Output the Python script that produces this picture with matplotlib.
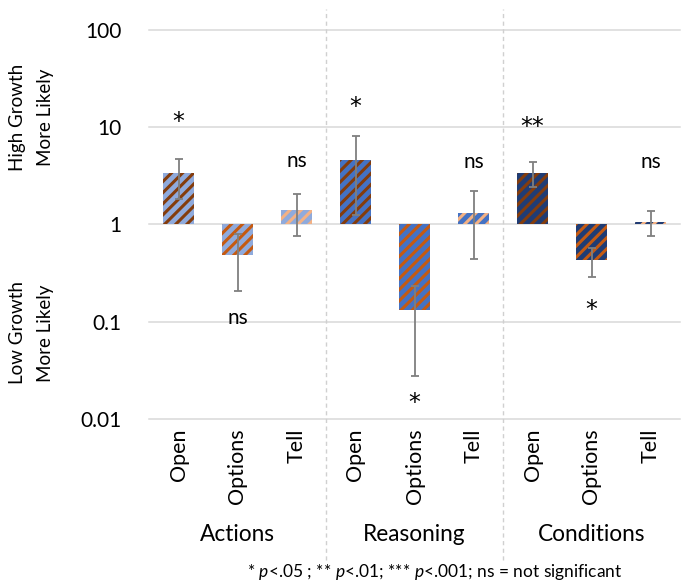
import matplotlib
matplotlib.use("Agg")
import matplotlib.pyplot as plt
import matplotlib.transforms as mtransforms
import numpy as np

plt.rcParams['font.family'] = ['Lato', 'DejaVu Sans']
plt.rcParams['mathtext.fontset'] = 'custom'
plt.rcParams['mathtext.rm'] = 'Lato'
plt.rcParams['mathtext.it'] = 'Lato:italic'
plt.rcParams['hatch.linewidth'] = 2.2

# ---- data ----
groups = ["Actions", "Reasoning", "Conditions"]
items = ["Open", "Options", "Tell"]
values = [3.36, 0.49, 1.40, 4.6, 0.131, 1.30, 3.41, 0.43, 1.07]
err_hi = [4.76, 0.79, 2.04, 8.1, 0.235, 2.2, 4.43, 0.575, 1.37]
err_lo = [1.81, 0.205, 0.76, 1.24, 0.028, 0.44, 2.45, 0.29, 0.76]
sig = ["*", "ns", "ns", "*", "*", "ns", "**", "*", "ns"]
sig_y = [11.2, 0.11, 4.5, 16.0, 0.0147, 4.4, 10.0, 0.133, 4.4]
yticks = [0.01, 0.1, 1, 10, 100]
ytick_labels = ["0.01", "0.1", "1", "10", "100"]

group_bg = ["#8FAADC", "#4472C4", "#203C74"]
item_stripe = ["#843C0C", "#C55A11", "#F4B183"]

fig = plt.figure(figsize=(6.82, 5.84), dpi=100)
ax = fig.add_axes([149/682, 165/584, 531/682, 389/584])
ax.set_yscale('log')
ax.set_ylim(0.01, 100)
n = len(values)
x = np.arange(n)
ax.set_xlim(-0.5, n - 0.5)

for spine in ax.spines.values():
    spine.set_visible(False)
for yt in yticks:
    ax.axhline(yt, color="#D9D9D9", lw=1.1, zorder=0, clip_on=False)

for i in range(n):
    g, k = divmod(i, 3)
    v = values[i]
    ax.bar(x[i], v - 1, bottom=1, width=0.54, color=group_bg[g],
           edgecolor=item_stripe[k], linewidth=0, hatch='///', zorder=2)

yerr = np.array([np.array(values) - np.array(err_lo), np.array(err_hi) - np.array(values)])
ax.errorbar(x, values, yerr=yerr, fmt='none', ecolor="#7F7F7F", elinewidth=1.3,
            capsize=3, capthick=1.3, zorder=3)

for i in range(n):
    if sig[i] == 'ns':
        ax.text(x[i], sig_y[i], sig[i], ha='center', va='center', fontsize=15,
                color='black', zorder=4)
    else:
        ax.text(x[i], sig_y[i], sig[i], ha='center', va='center', fontsize=17,
                family='DejaVu Sans', color='black', zorder=4)

ax.set_yticks(yticks)
ax.set_yticklabels(ytick_labels)
ax.minorticks_off()
ax.tick_params(axis='y', length=0, pad=20, labelsize=15)
ax.set_xticks(x)
ax.set_xticklabels(items * 3, rotation=90, va='top', ha='center', fontsize=15.5)
ax.tick_params(axis='x', length=0, pad=7)

trans = mtransforms.blended_transform_factory(ax.transData, ax.transAxes)
for s in [2.5, 5.5]:
    ax.plot([s, s], [-0.362, 1.054], transform=trans, color="#D0D0D0", lw=1,
            ls=(0, (3, 2.5)), clip_on=False, zorder=1)

for gi, gname in enumerate(groups):
    ax.text(gi * 3 + 1, -0.298, gname, transform=trans, ha='center', va='center', fontsize=16.3)

fig.text(435/682, (584-572)/584, "* $p$<.05 ; ** $p$<.01; *** $p$<.001; ns = not significant",
         ha='center', va='center', fontsize=12.5)

fig.text(18/682, (584-117)/584, "High Growth", rotation=90, ha='center', va='center', fontsize=13.5)
fig.text(45/682, (584-117)/584, "More Likely", rotation=90, ha='center', va='center', fontsize=13.5)
fig.text(18/682, (584-333)/584, "Low Growth", rotation=90, ha='center', va='center', fontsize=13.5)
fig.text(45/682, (584-333)/584, "More Likely", rotation=90, ha='center', va='center', fontsize=13.5)

fig.savefig("out.png", dpi=100)
